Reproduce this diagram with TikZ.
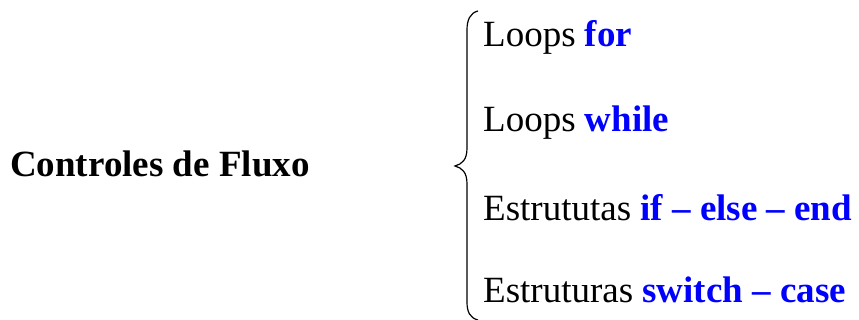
\documentclass[tikz,border=0pt]{standalone}
\usepackage{fontspec}
\setmainfont{Liberation Serif}
\definecolor{kwblue}{RGB}{0,0,255}
\newcommand{\kw}[1]{{\bfseries\color{kwblue}#1}}
\tikzset{txt/.style={anchor=base west,inner sep=0pt,font=\fontsize{37}{44}\selectfont}}

\begin{document}
\begin{tikzpicture}[x=1pt,y=1pt]
\useasboundingbox (0,0) rectangle (859,320);
\node[txt,font=\fontsize{37}{44}\selectfont\bfseries] (title) at (10,143) {Controles de Fluxo};
\draw[line width=1.2pt] (478,309) .. controls (470,307) and (467,300) .. (467,290) -- (467,172)
  .. controls (467,160) and (462,156) .. (455,154) .. controls (462,152) and (467,148) .. (467,136)
  -- (467,18) .. controls (467,8) and (470,2) .. (478,0);
\node[txt] (for) at (483,273) {Loops \kw{for}};
\node[txt] (while) at (483,188) {Loops \kw{while}};
\node[txt] (ifelse) at (483,99) {Estrututas \kw{if -- else -- end}};
\node[txt] (switch) at (483,17) {Estruturas \kw{switch -- case}};
\end{tikzpicture}
\end{document}
